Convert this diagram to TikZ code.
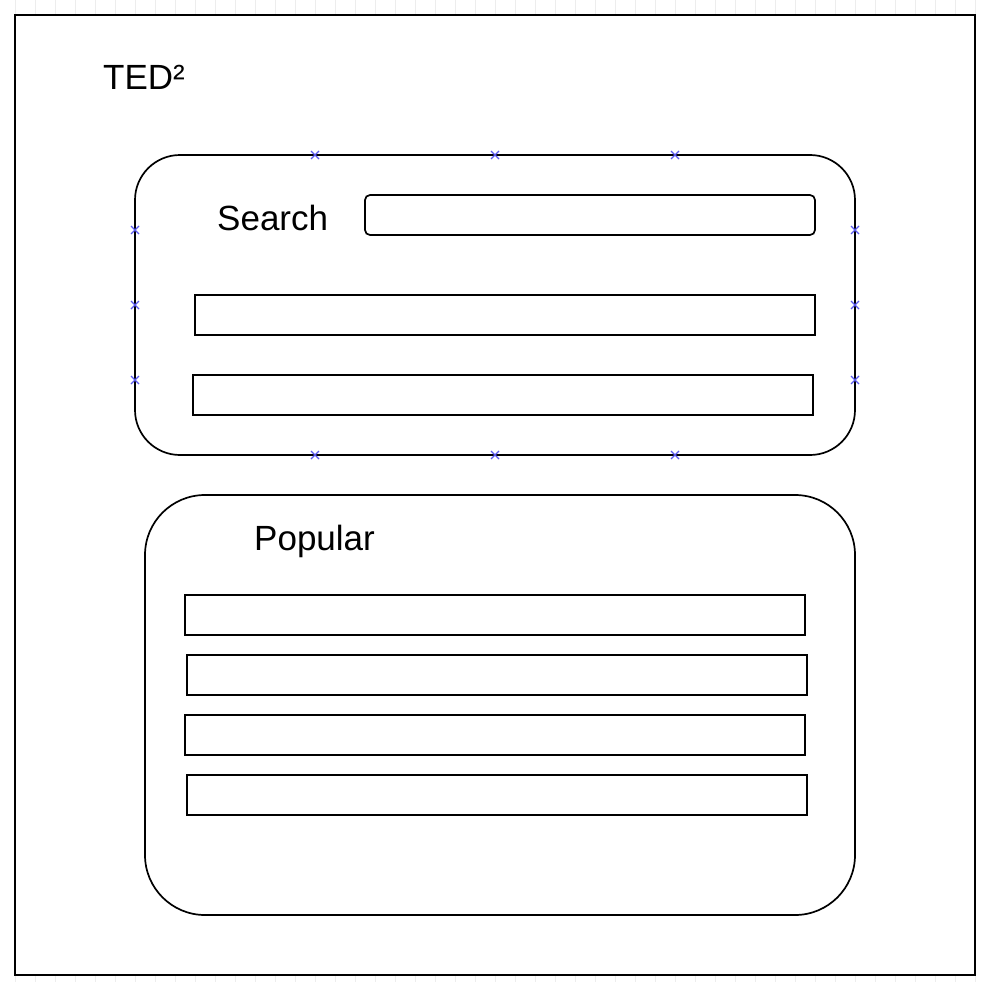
\documentclass[tikz,border=0pt]{standalone}
\usepackage{fontspec}
\setmainfont{Liberation Sans}
\definecolor{gridc}{HTML}{EDEDED}
\definecolor{markc}{HTML}{5A5AF0}
\tikzset{
  frame/.style={draw=black, line width=1.8pt, fill=white},
  panel/.style={draw=black, line width=1.7pt, rounded corners=#1},
  field/.style={draw=black, line width=1.7pt, inner sep=0pt, outer sep=0pt, minimum height=40pt},
  label/.style={font=\fontsize{35}{40}\selectfont, anchor=base west, inner sep=0pt},
  markline/.style={draw=markc, line width=1.3pt},
}
\begin{document}
\begin{tikzpicture}[x=1pt,y=-1pt]
\useasboundingbox (0,0) rectangle (994,982);
\fill[white] (0,0) rectangle (994,982);
\begin{scope}[shift={(15,15)}]
\draw[gridc, line width=0.8pt, step=20] (-20,-20) grid (990,980);
\end{scope}
% outer frame
\draw[frame] (15,15) rectangle (975,975);
\coordinate (framecorner) at (15,15);
\node[label] (title) at (103,90) {TED²};
% search panel
\draw[panel=45] (135,155) rectangle (855,455);
\coordinate (searchpanel) at (135,155);
\node[label] (search) at (217,230) {Search};
\node[field, rounded corners=5pt, minimum width=450pt] (input) at (590,215) {};
\node[field, minimum width=620pt] (res1) at (505,315) {};
\node[field, minimum width=620pt] (res2) at (503,395) {};
% connection marks
\foreach \n/\x/\y in {t1/315/155, t2/495/155, t3/675/155,
                      b1/315/455, b2/495/455, b3/675/455,
                      l1/135/230, l2/135/305, l3/135/380,
                      r1/855/230, r2/855/305, r3/855/380}
{
  \coordinate (m\n) at (\x,\y);
  \draw[markline] ([shift={(-4,-4)}]m\n) -- ([shift={(4,4)}]m\n)
                  ([shift={(-4,4)}]m\n) -- ([shift={(4,-4)}]m\n);
}
% popular panel
\draw[panel=60] (145,495) rectangle (855,915);
\coordinate (popularpanel) at (145,495);
\node[label] (popular) at (254,550) {Popular};
\node[field, minimum width=620pt] (p1) at (495,615) {};
\node[field, minimum width=620pt] (p2) at (497,675) {};
\node[field, minimum width=620pt] (p3) at (495,735) {};
\node[field, minimum width=620pt] (p4) at (497,795) {};
\end{tikzpicture}
\end{document}
